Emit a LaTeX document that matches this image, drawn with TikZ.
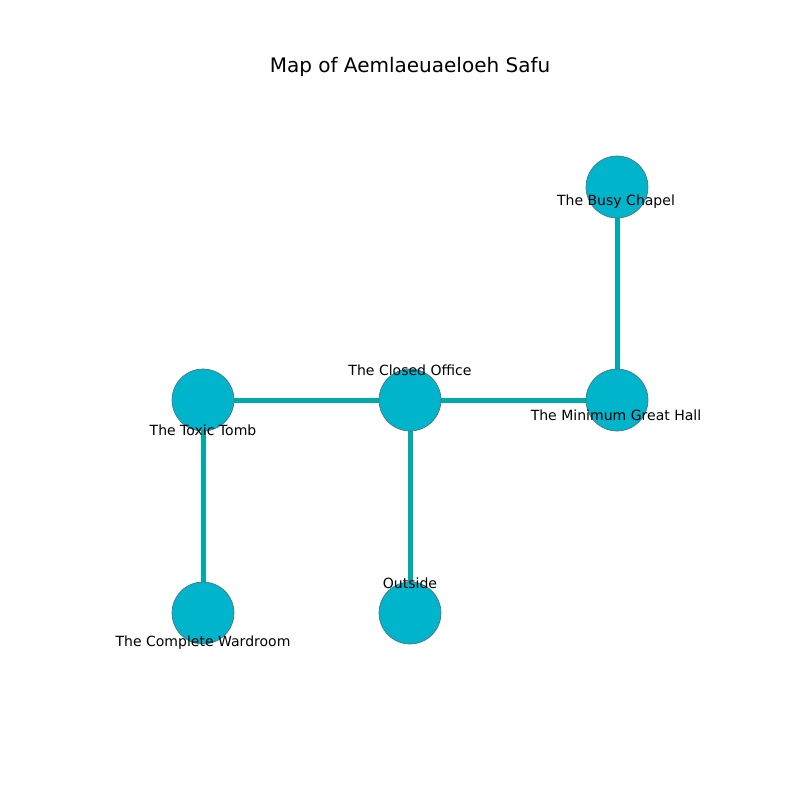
\documentclass[tikz,border=0pt]{standalone}
\usepackage{fontspec}
\setmainfont{DejaVu Sans}
\usetikzlibrary{backgrounds}

\definecolor{roomfill}{RGB}{0,180,204}
\definecolor{roomline}{RGB}{70,120,130}
\definecolor{corridor}{RGB}{0,170,170}

\begin{document}
\begin{tikzpicture}[
  x = 0.72pt,
  y = -0.72pt,
  semithick
  ]

  \tikzstyle{room}=[
  circle,
  draw = roomline,
  line width = 0.5pt,
  fill = roomfill,
  minimum size = 44.6pt,
  inner sep = 0pt
  ]
  \tikzstyle{tag}=[
  font = \fontsize{10.1pt}{12pt}\selectfont,
  inner sep = 0pt,
  yshift = -0.6pt
  ]
  \tikzstyle{hall}=[
  draw = corridor,
  line width = 3.6pt
  ]

  \useasboundingbox (0,0) rectangle (800,800);

  \node[font=\fontsize{14.4pt}{17pt}\selectfont] (title) at (410,67) {Map of Aemlaeuaeloeh Safu};

  \node[room] (chapel) at (617,187) {};
  \node[room] (tomb) at (203,400) {};
  \node[room] (office) at (410,400) {};
  \node[room] (great) at (617,400) {};
  \node[room] (wardroom) at (203,613) {};
  \node[room] (outside) at (410,613) {};

  \begin{scope}[on background layer]
  \path[hall] (tomb) -- (office);
  \path[hall] (office) -- (great);
  \path[hall] (great) -- (chapel);
  \path[hall] (tomb) -- (wardroom);
  \path[hall] (office) -- (outside);
  \end{scope}

  \node[tag] (chapel label) at (616,201) {The Busy Chapel};
  \node[tag] (office label) at (410,369) {The Closed Office};
  \node[tag] (great label) at (616,414) {The Minimum Great Hall};
  \node[tag] (tomb label) at (203,429) {The Toxic Tomb};
  \node[tag] (wardroom label) at (203,642) {The Complete Wardroom};
  \node[tag] (outside label) at (410,582) {Outside};

\end{tikzpicture}
\end{document}
